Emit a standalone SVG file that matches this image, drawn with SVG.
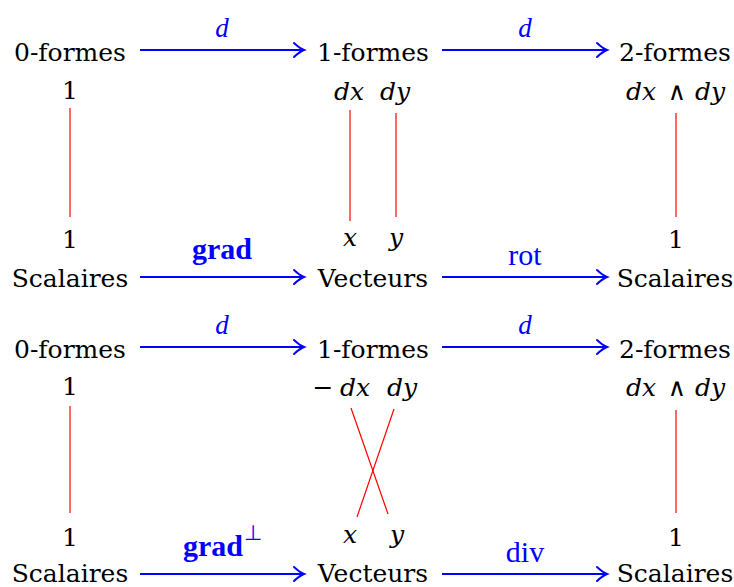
<svg xmlns="http://www.w3.org/2000/svg" width="734" height="587" viewBox="0 0 734 587">
<style>
.nd{font-family:"DejaVu Serif","Liberation Serif",serif;fill:#000;text-anchor:middle;font-size:25px}
.mi{font-style:italic}
.lb{font-family:"Liberation Serif","Times New Roman",serif;fill:#0000ff;text-anchor:middle}
.ar{stroke:#0000ff;stroke-width:2;fill:none;marker-end:url(#ah)}
.rl{stroke:#ff0000;stroke-width:1.2;fill:none}
</style>
<defs>
<marker id="ah" markerUnits="userSpaceOnUse" viewBox="-12 -9 15 18" markerWidth="15" markerHeight="18" refX="0" refY="0" orient="auto" overflow="visible">
<path d="M-9,-7 Q-3,-1.5 1,0 Q-3,1.5 -9,7" stroke="#0000ff" stroke-width="2" fill="none" stroke-linecap="round"/>
</marker>
</defs>
<rect width="734" height="587" fill="#fff"/>

<g id="connectors">
<line class="ar" x1="140" y1="50" x2="303" y2="50"/>
<line class="ar" x1="442" y1="50" x2="606" y2="50"/>
<line class="ar" x1="140" y1="277" x2="303" y2="277"/>
<line class="ar" x1="442" y1="277" x2="606" y2="277"/>
<line class="ar" x1="140" y1="347" x2="303" y2="347"/>
<line class="ar" x1="442" y1="347" x2="606" y2="347"/>
<line class="ar" x1="140" y1="574" x2="303" y2="574"/>
<line class="ar" x1="442" y1="574" x2="606" y2="574"/>
<text class="lb mi" x="222" y="37" font-size="27">d</text>
<text class="lb mi" x="525" y="37" font-size="27">d</text>
<text class="lb" x="222" y="259" font-size="30" font-weight="bold">grad</text>
<text class="lb" x="525" y="265" font-size="30">rot</text>
<text class="lb mi" x="222" y="334" font-size="27">d</text>
<text class="lb mi" x="525" y="334" font-size="27">d</text>
<text class="lb" x="213" y="556" font-size="30" font-weight="bold">grad</text>
<text class="lb" x="253" y="540" font-size="21">⊥</text>
<text class="lb" x="525" y="562" font-size="30">div</text>
<line class="rl" x1="70" y1="108" x2="70" y2="217"/>
<line class="rl" x1="350" y1="110" x2="350" y2="221"/>
<line class="rl" x1="396" y1="113" x2="396" y2="217"/>
<line class="rl" x1="676" y1="113" x2="676" y2="217"/>
<line class="rl" x1="70" y1="406" x2="70" y2="513"/>
<line class="rl" x1="351" y1="408" x2="388" y2="514"/>
<line class="rl" x1="394" y1="409" x2="357" y2="517"/>
<line class="rl" x1="676" y1="410" x2="676" y2="513"/>
</g>

<g id="top-0formes">
<text class="nd" x="70" y="61">0-formes</text>
<text class="nd" x="70" y="99">1</text>
</g>
<g id="top-1formes">
<text class="nd" x="373" y="61">1-formes</text>
<text class="nd mi" x="349" y="100">dx</text>
<text class="nd mi" x="395" y="100">dy</text>
</g>
<g id="top-2formes">
<text class="nd" x="675" y="61">2-formes</text>
<text class="nd mi" x="641" y="100">dx</text>
<text class="nd" x="677" y="100">∧</text>
<text class="nd mi" x="710" y="100">dy</text>
</g>
<g id="top-scalaires">
<text class="nd" x="70" y="248">1</text>
<text class="nd" x="70" y="287">Scalaires</text>
</g>
<g id="top-vecteurs">
<text class="nd mi" x="350" y="246">x</text>
<text class="nd mi" x="396" y="246">y</text>
<text class="nd" x="373" y="287">Vecteurs</text>
</g>
<g id="top-scalaires2">
<text class="nd" x="676" y="248">1</text>
<text class="nd" x="675" y="287">Scalaires</text>
</g>

<g id="bot-0formes">
<text class="nd" x="70" y="358">0-formes</text>
<text class="nd" x="70" y="395">1</text>
</g>
<g id="bot-1formes">
<text class="nd" x="373" y="358">1-formes</text>
<text class="nd" x="323" y="396">−</text>
<text class="nd mi" x="355" y="396">dx</text>
<text class="nd mi" x="402" y="396">dy</text>
</g>
<g id="bot-2formes">
<text class="nd" x="675" y="358">2-formes</text>
<text class="nd mi" x="641" y="396">dx</text>
<text class="nd" x="677" y="396">∧</text>
<text class="nd mi" x="710" y="396">dy</text>
</g>
<g id="bot-scalaires">
<text class="nd" x="70" y="546">1</text>
<text class="nd" x="70" y="582">Scalaires</text>
</g>
<g id="bot-vecteurs">
<text class="nd mi" x="350" y="543">x</text>
<text class="nd mi" x="397" y="543">y</text>
<text class="nd" x="373" y="582">Vecteurs</text>
</g>
<g id="bot-scalaires2">
<text class="nd" x="676" y="546">1</text>
<text class="nd" x="675" y="582">Scalaires</text>
</g>
</svg>
